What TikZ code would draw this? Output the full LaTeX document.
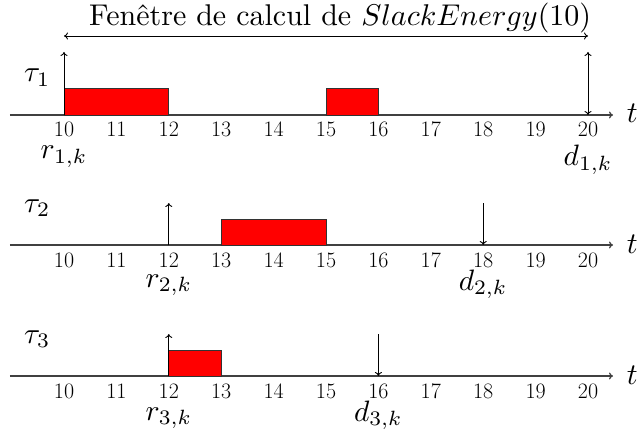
\RequirePackage{fix-cm}
\documentclass[tikz,border=0pt]{standalone}
\usetikzlibrary{arrows.meta}
\tikzset{
  axisline/.style={draw=black!75, line width=1.2pt, -{To[length=4pt,width=7pt]}},
  evarrow/.style={draw=black, line width=0.9pt, -{To[length=4pt,width=7pt]}},
  bothway/.style={draw=black, line width=0.9pt, {To[length=4pt,width=7pt]}-{To[length=4pt,width=7pt]}},
  job/.style={draw=black!80, fill=red, line width=0.9pt},
  ticklbl/.style={anchor=base, inner sep=0pt, font=\fontsize{22}{24}\selectfont},
  biglbl/.style={anchor=base, inner sep=0pt},
  tlbl/.style={anchor=base west, inner sep=0pt},
}
\newcommand\bigtxt[1]{\scalebox{2.95}{#1}}
\begin{document}
\begin{tikzpicture}[x=52.4pt, y=-1pt]
\begin{scope}[xshift=-460pt]
\path[use as bounding box] (8.7786,0) rectangle (21.0115,436);

% title and window
\node[biglbl] (title) at (15.27,26) {\scalebox{3}{Fenêtre de calcul de $SlackEnergy(10)$}};
\coordinate (w1) at (10,36);
\coordinate (w2) at (20,36);
\draw[bothway] (w1) -- (w2);

% ---------- timeline 1 ----------
\coordinate (a1s) at (8.969,115);
\coordinate (a1e) at (20.477,115);
\draw[axisline] (a1s) -- (a1e);
\node[tlbl] (t1) at (20.74,123) {\scalebox{3}{$t$}};
\node[biglbl, anchor=base west] (tau1) at (9.237,82) {\bigtxt{$\tau_1$}};
\foreach \k in {10,...,20} \node[ticklbl] (l1-\k) at (\k,136.5) {\k};
\draw[job] (10,115) rectangle (12,88);
\draw[job] (15,115) rectangle (16,88);
\coordinate (r1b) at (10,115);
\coordinate (r1t) at (10,52);
\draw[evarrow] (r1b) -- (r1t);
\coordinate (d1b) at (20,115);
\coordinate (d1t) at (20,52);
\draw[bothway] (d1t) -- (d1b);
\node[biglbl] (r1) at (10,159) {\bigtxt{$r_{1,k}$}};
\node[biglbl] (d1) at (20,166) {\bigtxt{$d_{1,k}$}};

% ---------- timeline 2 ----------
\coordinate (a2s) at (8.969,245);
\coordinate (a2e) at (20.477,245);
\draw[axisline] (a2s) -- (a2e);
\node[tlbl] (t2) at (20.74,253) {\scalebox{3}{$t$}};
\node[biglbl, anchor=base west] (tau2) at (9.237,212) {\bigtxt{$\tau_2$}};
\foreach \k in {10,...,20} \node[ticklbl] (l2-\k) at (\k,267) {\k};
\draw[job] (13,245) rectangle (15,219);
\coordinate (r2b) at (12,245);
\coordinate (r2t) at (12,203);
\draw[evarrow] (r2b) -- (r2t);
\coordinate (d2b) at (18,245);
\coordinate (d2t) at (18,203);
\draw[evarrow] (d2t) -- (d2b);
\node[biglbl] (r2) at (12,287) {\bigtxt{$r_{2,k}$}};
\node[biglbl] (d2) at (18,290) {\bigtxt{$d_{2,k}$}};

% ---------- timeline 3 ----------
\coordinate (a3s) at (8.969,376);
\coordinate (a3e) at (20.477,376);
\draw[axisline] (a3s) -- (a3e);
\node[tlbl] (t3) at (20.74,384) {\scalebox{3}{$t$}};
\node[biglbl, anchor=base west] (tau3) at (9.237,343) {\bigtxt{$\tau_3$}};
\foreach \k in {10,...,20} \node[ticklbl] (l3-\k) at (\k,398) {\k};
\draw[job] (12,376) rectangle (13,350);
\coordinate (r3b) at (12,376);
\coordinate (r3t) at (12,334);
\draw[evarrow] (r3b) -- (r3t);
\coordinate (d3b) at (16,376);
\coordinate (d3t) at (16,334);
\draw[evarrow] (d3t) -- (d3b);
\node[biglbl] (r3) at (12,420) {\bigtxt{$r_{3,k}$}};
\node[biglbl] (d3) at (16,421) {\bigtxt{$d_{3,k}$}};
\end{scope}
\end{tikzpicture}
\end{document}
